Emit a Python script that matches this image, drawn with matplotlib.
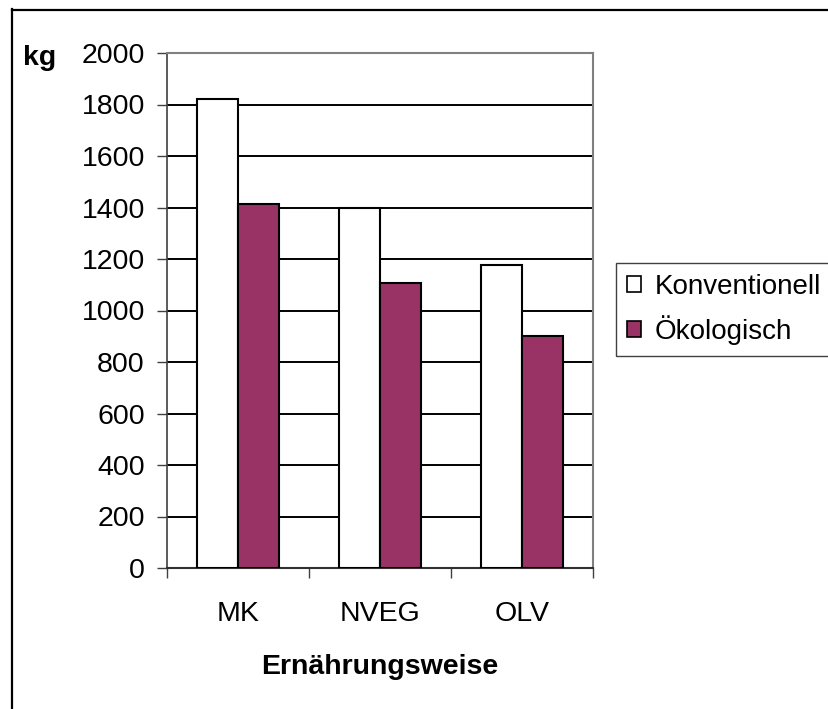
import numpy as np
import matplotlib.pyplot as plt
from matplotlib.patches import Rectangle
from matplotlib.lines import Line2D

plt.rcParams['font.family'] = ['Liberation Sans', 'DejaVu Sans']

# Dados
kategorien = ['MK', 'NVEG', 'OLV']
konventionell = [1820, 1400, 1175]
oekologisch = [1415, 1105, 900]
y_ticks = [0, 200, 400, 600, 800, 1000, 1200, 1400, 1600, 1800, 2000]

W, H = 829, 709
fig = plt.figure(figsize=(W / 100, H / 100), dpi=100)

# plot area (pixel-Koordinaten aus dem Original)
left, right, top, bottom = 167, 593, 53, 568
ax = fig.add_axes([left / W, 1 - bottom / H, (right - left) / W, (bottom - top) / H])

x = np.arange(len(kategorien))
bw = 0.292
ax.bar(x - bw / 2, konventionell, bw, color='white', edgecolor='black', linewidth=1.5, zorder=3)
ax.bar(x + bw / 2, oekologisch, bw, color='#993366', edgecolor='black', linewidth=1.5, zorder=3)

ax.set_xlim(-0.5, 2.5)
ax.set_ylim(0, 2000)
ax.set_yticks(y_ticks)
ax.tick_params(axis='y', direction='out', length=7.5, width=1, color='#404040', labelsize=20.5, pad=8.5)
ax.set_xticks(x)
ax.set_xticklabels(kategorien)
ax.tick_params(axis='x', which='major', length=0, labelsize=20.5, pad=24)
ax.set_xticks([-0.5, 0.5, 1.5, 2.5], minor=True)
ax.tick_params(axis='x', which='minor', direction='out', length=7.5, width=1, color='#404040')

ax.yaxis.grid(True, color='black', linewidth=1.4, zorder=1)
ax.set_axisbelow(True)

for s in ['top', 'right']:
    ax.spines[s].set_color('#808080')
    ax.spines[s].set_linewidth(1.5)
ax.spines['left'].set_color('#404040')
ax.spines['left'].set_linewidth(1.2)
ax.spines['bottom'].set_color('#303030')
ax.spines['bottom'].set_linewidth(1.5)

fig.text(23 / W, 1 - 58 / H, 'kg', fontsize=20.5, fontweight='bold', va='center', ha='left')
fig.text(380 / W, 1 - 667 / H, 'Ernährungsweise', fontsize=20.5, fontweight='bold', va='center', ha='center')

handles = [Rectangle((0, 0), 1, 1, facecolor='white', edgecolor='black', linewidth=1.2),
           Rectangle((0, 0), 1, 1, facecolor='#993366', edgecolor='black', linewidth=1.2)]
leg = fig.legend(handles, ['Konventionell', 'Ökologisch'], loc='upper left',
                 bbox_to_anchor=(616 / W, 1 - 263 / H), borderaxespad=0,
                 fontsize=20, handlelength=0.5, handleheight=0.5, handletextpad=0.5,
                 borderpad=0.4, labelspacing=0.55, fancybox=False, framealpha=1)
leg.get_frame().set_edgecolor('#404040')
leg.get_frame().set_linewidth(1.0)

# Rahmen (nur links und oben sichtbar)
fig.add_artist(Line2D([12 / W, 12 / W], [0, 1 - 9 / H], color='black', linewidth=1.6))
fig.add_artist(Line2D([12 / W, 1], [1 - 10 / H, 1 - 10 / H], color='black', linewidth=1.6))

fig.savefig('out.png', dpi=100)
